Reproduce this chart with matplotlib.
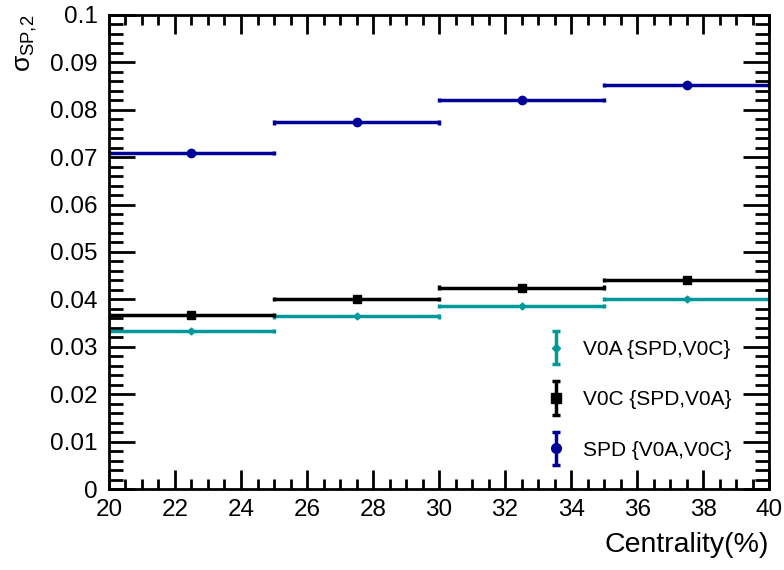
import numpy as np
import matplotlib.pyplot as plt
from matplotlib.ticker import MultipleLocator
from matplotlib.legend_handler import HandlerErrorbar

plt.rcParams['font.family'] = ['Liberation Sans', 'DejaVu Sans']
plt.rcParams['mathtext.fontset'] = 'custom'
plt.rcParams['mathtext.rm'] = 'Liberation Sans'
plt.rcParams['mathtext.it'] = 'Liberation Sans'

# centrality bins
cent = [22.5, 27.5, 32.5, 37.5]
half_w = [2.5, 2.5, 2.5, 2.5]

# sigma_SP,2 per detector
v0a = [0.0333, 0.0364, 0.0386, 0.0400]
v0a_err = [0.0004, 0.0004, 0.0004, 0.0004]
v0c = [0.0367, 0.0400, 0.0425, 0.0441]
v0c_err = [0.0003, 0.0003, 0.0003, 0.0003]
spd = [0.0709, 0.0773, 0.0820, 0.0852]
spd_err = [0.0003, 0.0003, 0.0003, 0.0003]

fig = plt.figure(figsize=(7.84, 5.7), dpi=100)
ax = fig.add_axes([0.139, 0.142, 0.842, 0.832])

series = [
    (v0a, v0a_err, '#009999', 'D', 3.5, 'V0A {SPD,V0C}'),
    (v0c, v0c_err, 'black', 's', 6, 'V0C {SPD,V0A}'),
    (spd, spd_err, '#000099', 'o', 6, 'SPD {V0A,V0C}'),
]
handles = []
for y, yerr, col, mk, ms, lab in series:
    ax.errorbar(cent, y, xerr=half_w, yerr=yerr, fmt='none', ecolor=col,
                elinewidth=2.5, capsize=0)
    # little end caps on the horizontal bars
    for edge in (-2.5, 2.5):
        ax.errorbar(np.array(cent) + edge, y, yerr=0.00045, fmt='none',
                    ecolor=col, elinewidth=2.5, capsize=0)
    ax.plot(cent, y, linestyle='none', marker=mk, color=col, markersize=ms)
    # legend entry: marker with a capped vertical bar
    h = ax.errorbar([np.nan], [np.nan], yerr=[0.001], fmt=mk, color=col,
                    markersize=ms + 1, elinewidth=2.5, capsize=2.6, capthick=2.5,
                    label=lab)
    handles.append(h)

ax.set_xlim(20, 40)
ax.set_ylim(0, 0.1)
ax.xaxis.set_major_locator(MultipleLocator(2))
ax.xaxis.set_minor_locator(MultipleLocator(0.5))
ax.yaxis.set_minor_locator(MultipleLocator(0.002))
ax.set_yticks(np.arange(0, 0.101, 0.01))
ax.set_yticklabels(['0'] + ['%g' % v for v in np.arange(0.01, 0.101, 0.01)])

for s in ax.spines.values():
    s.set_linewidth(2)
ax.tick_params(axis='both', which='both', direction='in', top=True, right=True,
               width=2, labelsize=17.5)
ax.tick_params(axis='y', which='major', length=19, pad=8)
ax.tick_params(axis='y', which='minor', length=10)
ax.tick_params(axis='x', which='major', length=14, pad=7)
ax.tick_params(axis='x', which='minor', length=7)

ax.set_xlabel('Centrality(%)', fontsize=20.5, loc='right', labelpad=8)
ax.set_ylabel(r'$\sigma_{\mathrm{SP{,}2}}$', fontsize=19, loc='top', labelpad=8)

leg = fig.legend(handles=handles, loc='upper left',
                 bbox_to_anchor=(543 / 784, 1 - 340 / 570),
                 frameon=False, fontsize=15, labelspacing=1.5, handlelength=1.2,
                 handletextpad=0.7, borderpad=0, borderaxespad=0,
                 handler_map={type(handles[0]): HandlerErrorbar(yerr_size=0.8)})

fig.savefig('out.png', dpi=100)
